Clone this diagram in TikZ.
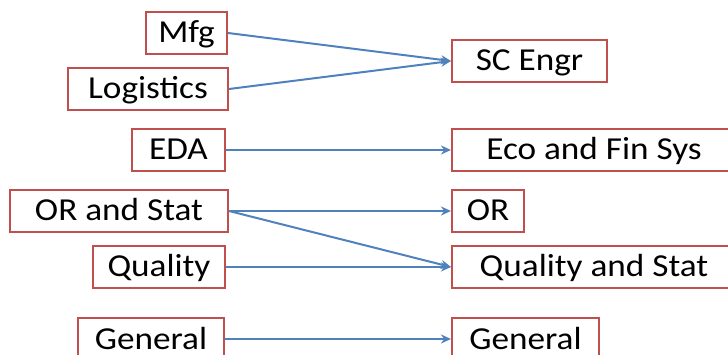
\documentclass[tikz,border=0pt]{standalone}
\usepackage{fontspec}
\setmainfont{Carlito}[FakeStretch=1.1]
\usetikzlibrary{arrows.meta,positioning}
\definecolor{boxred}{RGB}{192,80,77}
\definecolor{lineblue}{RGB}{79,129,189}

\begin{document}
\begin{tikzpicture}[x=1pt,y=-1pt,
    area/.style={draw=boxred,line width=2pt,fill=white,inner sep=0pt,
      minimum height=42pt,text height=20pt,text depth=0pt,
      font=\fontsize{32}{38}\selectfont},
    link/.style={draw=lineblue,line width=2pt,-{Stealth[length=10pt,width=9pt]}}]
    \useasboundingbox (0,0) rectangle (728,355);
				% left column
				\node[area,minimum width=81pt] (mfg) at (186.5,33) {Mfg};
				\node[area,minimum width=160pt] (logistics) at (148,89) {Logistics};
				\node[area,minimum width=93pt] (eda) at (178.5,150) {EDA};
				\node[area,minimum width=218pt] (orstat) at (119,211) {OR and Stat};
				\node[area,minimum width=132pt] (quality) at (159,267) {Quality};
				\node[area,minimum width=146pt] (genleft) at (151,339) {General};
				
				% right column
				\node[area,minimum width=155pt] (scengr) at (529.5,61) {SC Engr};
				\node[area,minimum width=284pt] (ecofin) at (594,150) {Eco and Fin Sys};
				\node[area,minimum width=72pt] (or) at (488,211) {OR};
				\node[area,minimum width=284pt] (qualstat) at (594,267) {Quality and Stat};
				\node[area,minimum width=147pt] (genright) at (525.5,339) {General};
				
				\draw[link] (mfg.east) -- (scengr.west);
				\draw[link] (logistics.east) -- (scengr.west);
				\draw[link] (eda.east) -- (ecofin.west);
				\draw[link] (orstat.east) -- (or.west);
				\draw[link] (orstat.east) -- (qualstat.west);
				\draw[link] (quality.east) -- (qualstat.west);
				\draw[link] (genleft.east) -- (genright.west);
			\end{tikzpicture}
\end{document}
